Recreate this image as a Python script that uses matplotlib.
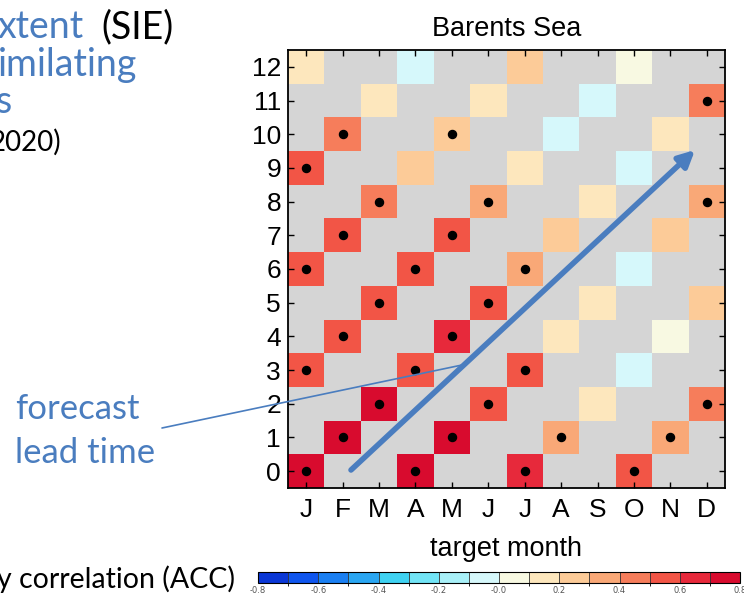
import numpy as np
import matplotlib
matplotlib.use("Agg")
import matplotlib.pyplot as plt
from matplotlib.colors import ListedColormap, BoundaryNorm

months = ["J", "F", "M", "A", "M", "J", "J", "A", "S", "O", "N", "D"]
leads = list(range(13))

nan = np.nan
# ACC per forecast lead time (rows 0..12) and target month (J..D), nan = not shown
acc = [
    [0.75, nan, nan, 0.75, nan, nan, 0.65, nan, nan, 0.55, nan, nan],
    [nan, 0.75, nan, nan, 0.75, nan, nan, 0.35, nan, nan, 0.35, nan],
    [nan, nan, 0.75, nan, nan, 0.55, nan, nan, 0.15, nan, nan, 0.45],
    [0.55, nan, nan, 0.55, nan, nan, 0.55, nan, nan, -0.05, nan, nan],
    [nan, 0.55, nan, nan, 0.65, nan, nan, 0.15, nan, nan, 0.05, nan],
    [nan, nan, 0.55, nan, nan, 0.55, nan, nan, 0.15, nan, nan, 0.25],
    [0.55, nan, nan, 0.55, nan, nan, 0.35, nan, nan, -0.05, nan, nan],
    [nan, 0.55, nan, nan, 0.55, nan, nan, 0.25, nan, nan, 0.25, nan],
    [nan, nan, 0.45, nan, nan, 0.35, nan, nan, 0.15, nan, nan, 0.35],
    [0.55, nan, nan, 0.25, nan, nan, 0.15, nan, nan, -0.05, nan, nan],
    [nan, 0.45, nan, nan, 0.25, nan, nan, -0.05, nan, nan, 0.15, nan],
    [nan, nan, 0.15, nan, nan, 0.15, nan, nan, -0.05, nan, nan, 0.45],
    [0.15, nan, nan, -0.05, nan, nan, 0.25, nan, nan, 0.05, nan, nan],
]
# significant cells (black dots)
sig = [
    [1, 0, 0, 1, 0, 0, 1, 0, 0, 1, 0, 0],
    [0, 1, 0, 0, 1, 0, 0, 1, 0, 0, 1, 0],
    [0, 0, 1, 0, 0, 1, 0, 0, 0, 0, 0, 1],
    [1, 0, 0, 1, 0, 0, 1, 0, 0, 0, 0, 0],
    [0, 1, 0, 0, 1, 0, 0, 0, 0, 0, 0, 0],
    [0, 0, 1, 0, 0, 1, 0, 0, 0, 0, 0, 0],
    [1, 0, 0, 1, 0, 0, 1, 0, 0, 0, 0, 0],
    [0, 1, 0, 0, 1, 0, 0, 0, 0, 0, 0, 0],
    [0, 0, 1, 0, 0, 1, 0, 0, 0, 0, 0, 1],
    [1, 0, 0, 0, 0, 0, 0, 0, 0, 0, 0, 0],
    [0, 1, 0, 0, 1, 0, 0, 0, 0, 0, 0, 0],
    [0, 0, 0, 0, 0, 0, 0, 0, 0, 0, 0, 1],
    [0, 0, 0, 0, 0, 0, 0, 0, 0, 0, 0, 0],
]

levels = np.round(np.arange(-0.8, 0.81, 0.1), 2)
colors = ["#0a37d6", "#0f55ee", "#1a7ff2", "#2aa6f2", "#3fd2f2", "#72e4f6",
          "#a8f0f8", "#d6f8fb", "#f8f9e2", "#fde7bd", "#fccb98", "#f9a877",
          "#f67d5b", "#f25546", "#e7293b", "#d80b2e"]
cmap = ListedColormap(colors)
norm = BoundaryNorm(levels, cmap.N)

blue = "#4a7dbf"
W, H = 744, 595

fig = plt.figure(figsize=(W / 100, H / 100), dpi=100)
ax = fig.add_axes([288 / W, 1 - 488 / H, 437 / W, 438 / H])
ax.set_facecolor("#d5d5d5")

data = np.ma.masked_invalid(np.array(acc))
ax.pcolormesh(np.arange(-0.5, 12), np.arange(-0.5, 13), data, cmap=cmap, norm=norm)

s = np.array(sig)
rr, cc = np.nonzero(s)
ax.plot(cc, rr, "o", color="black", ms=5.8, ls="none")

ax.set_xlim(-0.5, 11.5)
ax.set_ylim(-0.5, 12.5)
ax.set_xticks(range(12))
ax.set_xticklabels(months)
ax.set_yticks(leads)
ax.tick_params(direction="in", length=4, width=1, top=True, right=True,
               labelsize=19, pad=5)
ax.tick_params(axis="x", pad=7)
for lab in ax.get_xticklabels() + ax.get_yticklabels():
    lab.set_family("Liberation Sans")
for sp in ax.spines.values():
    sp.set_linewidth(1.3)
ax.set_title("Barents Sea", family="Liberation Sans", fontsize=19.5, pad=10)
ax.set_xlabel("target month", family="Liberation Sans", fontsize=19.5, labelpad=10)

# colour bar
cax = fig.add_axes([258 / W, 1 - 583 / H, 482 / W, 11 / H])
cb = fig.colorbar(plt.cm.ScalarMappable(norm=norm, cmap=cmap), cax=cax,
                  orientation="horizontal", drawedges=True, ticks=levels[::2])
cb.outline.set_linewidth(0.8)
cb.dividers.set_linewidth(0.6)
cb.dividers.set_color("#333333")
cax.tick_params(length=0, labelsize=6, labelcolor="#555555", pad=2)
cax.set_xticklabels([f"{v:.1f}" for v in levels[::2]])

# slide text around the chart
def slide_text(x, y, txt, color, size):
    fig.text(x / W, 1 - y / H, txt, color=color, family="Lato", fontsize=size,
             va="baseline")

slide_text(-2, 38, "xtent", blue, 27)
slide_text(101, 38, "(SIE)", "black", 27)
slide_text(-2, 76, "imilating", blue, 27)
slide_text(-4, 113, "s", blue, 27)
slide_text(-10, 151, "2020)", "black", 20)
slide_text(15, 419, "forecast", blue, 25)
slide_text(15, 463, "lead time", blue, 25)
slide_text(-3, 588, "y correlation (ACC)", "black", 20.5)

ax.annotate("", xy=(695, H - 150), xytext=(351, H - 470), xycoords="figure pixels",
            textcoords="figure pixels", annotation_clip=False,
            arrowprops=dict(arrowstyle="-|>", lw=4, color=blue, mutation_scale=24,
                            shrinkA=0, shrinkB=0))
ax.annotate("", xy=(462, H - 365), xytext=(162, H - 428), xycoords="figure pixels",
            textcoords="figure pixels", annotation_clip=False,
            arrowprops=dict(arrowstyle="-", lw=1.2, color=blue, shrinkA=0, shrinkB=0))

fig.savefig("out.png", dpi=100)
